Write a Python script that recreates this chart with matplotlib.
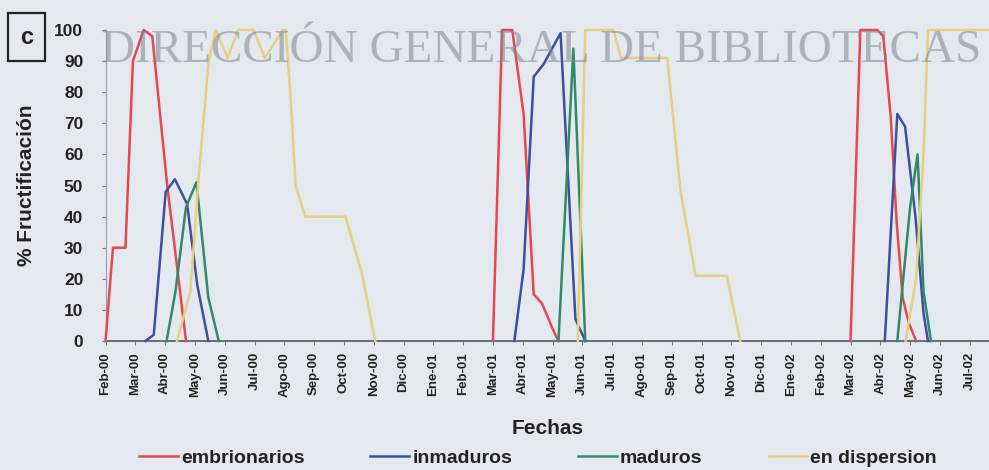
import numpy as np
import matplotlib
matplotlib.use("Agg")
import matplotlib.pyplot as plt
from matplotlib.patches import Rectangle

nan = np.nan

# month labels (x = months since Feb-00)
month_labels = ["Feb-00", "Mar-00", "Abr-00", "May-00", "Jun-00", "Jul-00", "Ago-00",
                "Sep-00", "Oct-00", "Nov-00", "Dic-00", "Ene-01", "Feb-01", "Mar-01",
                "Abr-01", "May-01", "Jun-01", "Jul-01", "Ago-01", "Sep-01", "Oct-01",
                "Nov-01", "Dic-01", "Ene-02", "Feb-02", "Mar-02", "Abr-02", "May-02",
                "Jun-02", "Jul-02"]

emb_x = [0, 0.25, 0.67, 0.92, 1.28, 1.57, 2.07, 2.4, 2.7, nan,
         13.0, 13.31, 13.65, 14.03, 14.37, 14.65, 15.0, 15.2, nan,
         25.0, 25.33, 25.9, 26.1, 26.35, 26.55, 26.75, 26.95, 27.2]
emb_y = [0, 30, 30, 90, 100, 98, 50, 24, 0, nan,
         0, 100, 100, 73, 15, 12, 4, 0, nan,
         0, 100, 100, 98, 72, 38, 14, 6, 0]

inm_x = [1.34, 1.62, 2.02, 2.33, 2.74, 3.08, 3.45, nan,
         13.72, 14.03, 14.37, 14.7, 15.27, 15.77, 16.1, nan,
         26.15, 26.57, 26.83, 27.18, 27.45, 27.6]
inm_y = [0, 2, 48, 52, 44, 18, 0, nan,
         0, 23, 85, 89, 99, 7, 0, nan,
         0, 73, 69, 40, 9, 0]

mad_x = [2.05, 2.35, 2.7, 3.05, 3.45, 3.8, nan,
         15.2, 15.7, 16.1, nan,
         26.57, 27.0, 27.25, 27.45, 27.7]
mad_y = [0, 16, 43, 51, 14, 0, nan,
         0, 94, 0, nan,
         0, 43, 60, 16, 0]

disp_x = [2.4, 2.85, 3.13, 3.46, 3.7, 4.1, 4.45, 4.97, 5.35, 5.95, 6.05, 6.2, 6.38,
          6.7, 8.05, 8.6, 9.05, nan,
          15.85, 16.1, 17.05, 17.3, 18.85, 19.3, 19.8, 20.85, 21.3, nan,
          26.85, 27.2, 27.45, 27.6, 29.7]
disp_y = [0, 16, 53, 90, 100, 91, 100, 100, 91, 100, 100, 80, 50,
          40, 40, 22, 0, nan,
          0, 100, 100, 91, 91, 48, 21, 21, 0, nan,
          0, 20, 60, 100, 100]

series_names = ["embrionarios", "inmaduros", "maduros", "en dispersion"]
colors = ["#e8474f", "#3d4f9e", "#2f8a6c", "#e6cf7e"]

bg = "#e4e9f0"
W, H = 989, 470
fig = plt.figure(figsize=(W / 100, H / 100), dpi=100, facecolor=bg)
ax = fig.add_axes([105.5 / W, 129 / H, (989 - 105.5) / W, (341 - 30) / H])
ax.set_facecolor(bg)

font = "Liberation Sans"
lines = []
for (xs, ys), name, c in zip([(emb_x, emb_y), (inm_x, inm_y), (mad_x, mad_y), (disp_x, disp_y)],
                             series_names, colors):
    ln, = ax.plot(xs, ys, color=c, lw=1.8, label=name, clip_on=False, zorder=3)
    lines.append(ln)

ax.set_xlim(0, (989 - 105.5) / 29.8)
ax.set_ylim(0, 100)
ax.set_yticks(np.arange(0, 101, 10))
ax.set_xticks(np.arange(len(month_labels)))
ax.set_xticklabels(month_labels, rotation=90, fontsize=9.5, fontweight="bold",
                   family=font, color="#222222")
for lab in ax.get_yticklabels():
    lab.set_fontsize(12.5)
    lab.set_family(font)
    lab.set_fontweight("bold")
    lab.set_color("#222222")

for s in ["top", "right"]:
    ax.spines[s].set_visible(False)
ax.spines["left"].set_color("#9aa0a8")
ax.spines["left"].set_linewidth(0.8)
ax.spines["bottom"].set_color("#555a60")
ax.spines["bottom"].set_linewidth(1.2)
ax.spines["bottom"].set_zorder(2)
ax.tick_params(axis="y", length=3, width=0.8, color="#777777", pad=13)
ax.tick_params(axis="x", length=3, width=0.8, color="#777777", pad=5)

ax.set_xlabel("Fechas", fontsize=15, fontweight="bold", family=font, color="#222222")
ax.xaxis.set_label_coords(0.5, -0.25)
fig.text(27 / W, 1 - 185 / H, "% Fructificación", rotation=90, ha="center", va="center",
         fontsize=15, fontweight="bold", family=font, color="#222222")

leg = fig.legend(handles=lines, labels=series_names, loc="center",
                 bbox_to_anchor=(538 / W, 1 - 458 / H), ncol=4, frameon=False,
                 prop={"family": font, "weight": "bold", "size": 14},
                 handlelength=2.0, handletextpad=0.15, columnspacing=3.4)
for t in leg.get_texts():
    t.set_color("#222222")

# panel letter
fig.patches.append(Rectangle((8 / W, 1 - 61 / H), 37 / W, 48 / H, transform=fig.transFigure,
                             fill=False, edgecolor="#222222", lw=1.6))
fig.text(26.5 / W, 1 - 37 / H, "c", ha="center", va="center", fontsize=17,
         fontweight="bold", family=font, color="#222222")

# watermark
fig.text(541 / W, 1 - 62 / H, "DIRECCIÓN GENERAL DE BIBLIOTECAS", ha="center", va="baseline",
         fontsize=34, family="Liberation Serif", color="#80868f", alpha=0.55, zorder=10)

fig.savefig("out.png", dpi=100, facecolor=bg)
